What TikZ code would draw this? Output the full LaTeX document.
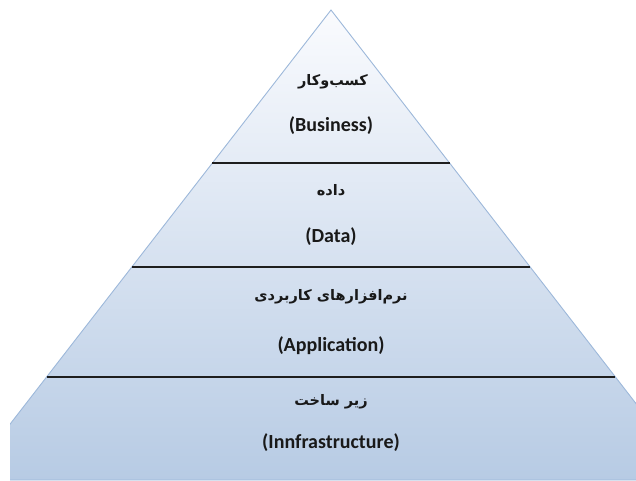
\documentclass[tikz,border=0pt]{standalone}
\usepackage{fontspec}
\setmainfont{Carlito}
\newfontfamily\arabicfont[Script=Arabic]{DejaVu Sans}
\TeXXeTstate=1
\definecolor{pyrtop}{HTML}{FAFBFE}
\definecolor{pyrbot}{HTML}{B7CBE4}
\definecolor{pyredge}{HTML}{9DB8DA}
\definecolor{divcol}{HTML}{1E1E1E}
\begin{document}
\begin{tikzpicture}[x=1pt,y=-1pt,
  divider/.style={draw=divcol,line width=1.4pt},
  fatxt/.style={font=\arabicfont\bfseries\fontsize{14.5}{16}\selectfont,inner sep=0pt,text=black!90},
  entxt/.style={font=\bfseries\fontsize{20}{22}\selectfont,inner sep=0pt,text=black!90}]
\useasboundingbox (0,0) rectangle (636,480);
\begin{scope}
  \clip (10,0) rectangle (636,480);
  \path[top color=pyrtop, bottom color=pyrbot, draw=pyredge, line width=0.9pt]
    (331,10) -- (695.25,480) -- (-33.25,480) -- cycle;
\end{scope}
\coordinate (l1) at (212.4,163); \coordinate (r1) at (449.6,163);
\coordinate (l2) at (131.8,267); \coordinate (r2) at (530.2,267);
\coordinate (l3) at (46.6,377);  \coordinate (r3) at (615.4,377);
\draw[divider] (l1) -- (r1);
\draw[divider] (l2) -- (r2);
\draw[divider] (l3) -- (r3);
\node[fatxt] (bfa) at (333,82) {\beginR کسب‌وکار\endR};
\node[entxt] (ben) at (331,126) {(Business)};
\node[fatxt] (dfa) at (331,190) {\beginR داده\endR};
\node[entxt] (den) at (331,237) {(Data)};
\node[fatxt] (afa) at (331,297) {\beginR نرم‌افزارهای کاربردی\endR};
\node[entxt] (aen) at (331,346) {(Application)};
\node[fatxt] (ifa) at (331,402) {\beginR زیر ساخت\endR};
\node[entxt] (ien) at (331,443) {(Innfrastructure)};
\end{tikzpicture}
\end{document}
